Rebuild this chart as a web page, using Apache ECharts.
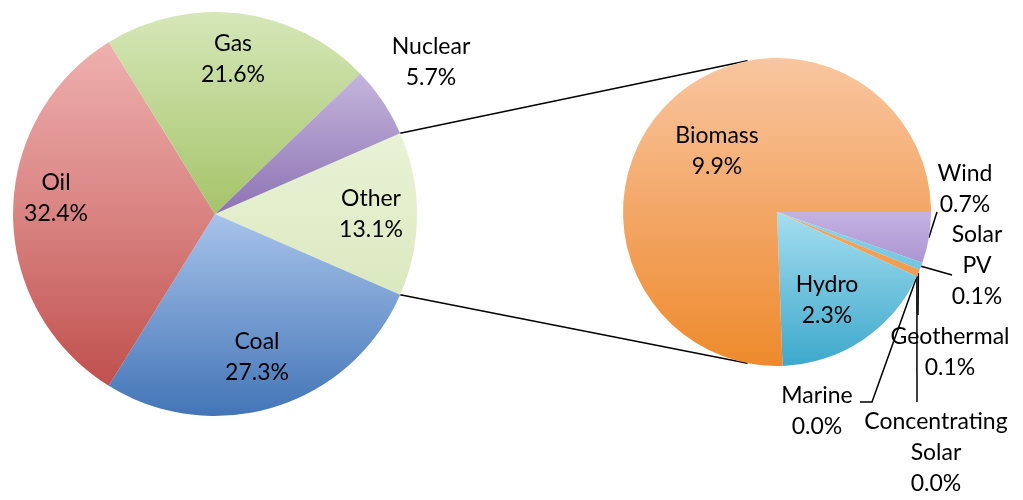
<!DOCTYPE html>
<html>
<head>
<meta charset="utf-8">
<script src="https://cdn.jsdelivr.net/npm/echarts@6/dist/echarts.min.js"></script>
<style>
  html, body { margin: 0; background: #fff; }
  #chart { width: 1023px; height: 500px; }
</style>
</head>
<body>
<div id="chart"></div>
<script>
// energy mix, % of total
const mainNames = ["Other", "Coal", "Oil", "Gas", "Nuclear"];
const mainValues = [13.1, 27.3, 32.4, 21.6, 5.7];
// breakdown of "Other"
const otherNames = ["Wind", "Solar\nPV", "Geothermal", "Concentrating\nSolar", "Marine", "Hydro", "Biomass"];
const otherValues = [0.7, 0.1, 0.1, 0.0, 0.0, 2.3, 9.9];

// pie geometry (px)
const L = { cx: 215, cy: 214, r: 202 };
const R = { cx: 777, cy: 212, r: 154 };

// label centres, offsets from pie centre
const mainLabelPos = [[156, 0], [42, 143], [-159, -16], [18, -155], [216, -152]];
const otherLabelPos = [[188, -23], [200, 54], [173, 140], [159, 241], [40, 199], [50, 88], [-60, -61]];
// leader line bends / ends, offsets from pie centre (null = label inside)
const otherLeaders = [[[160, 0]], [[175, 63]], [[141, 103]], [[140, 190]], [[95, 190], [83, 190]], null, null];

// gradient stops [top, middle, bottom] across whole pie height
const mainColors = [
  ["#f2f8e6", "#e2eecb", "#cfe0ad"],
  ["#dfe9f8", "#a8c3ea", "#4375b7"],
  ["#f2b8b6", "#d98482", "#bb4744"],
  ["#d6e7b8", "#a5c46a", "#8aab45"],
  ["#dcd2ee", "#8d73b3", "#6d5196"]
];
const otherColors = [
  ["#e2d8f2", "#c4b2e2", "#7a5cb0"],
  ["#d6f1f9", "#8fd6ee", "#3da8cb"],
  ["#fac9a3", "#f3a766", "#ee8a2c"],
  ["#d6f1f9", "#8fd6ee", "#3da8cb"],
  ["#fac9a3", "#f3a766", "#ee8a2c"],
  ["#d6f1f9", "#a5def0", "#3da8cb"],
  ["#f9c6a0", "#f3a766", "#ee8a2c"]
];

const font = { fontFamily: "Lato", fontSize: 23, lineHeight: 31, color: "#000" };

function grad(c, geo) {
  return new echarts.graphic.LinearGradient(0, geo.cy - geo.r, 0, geo.cy + geo.r, [
    { offset: 0, color: c[0] },
    { offset: 0.5, color: c[1] },
    { offset: 1, color: c[2] }
  ], true);
}

const sum = (a) => a.reduce((s, v) => s + v, 0);
const mainStart = mainValues[0] / sum(mainValues) * 180;

// mid angle (deg, ccw) of each slice of the right pie
const otherTotal = sum(otherValues);
const otherMid = [];
let acc = 0;
otherValues.forEach((v) => {
  otherMid.push(-(acc + v / 2) / otherTotal * 360);
  acc += v;
});

const mainData = mainNames.map((n, i) => ({
  name: n,
  value: mainValues[i],
  itemStyle: { color: grad(mainColors[i], L) },
  label: { position: "inside" },
  labelLine: { show: false }
}));

const otherData = otherNames.map((n, i) => ({
  name: n,
  value: otherValues[i],
  itemStyle: { color: grad(otherColors[i], R) },
  label: { position: otherLeaders[i] ? "outside" : "inside" },
  labelLine: { show: !!otherLeaders[i] }
}));

const labelText = (p) => p.name + "\n" + p.value.toFixed(1) + "%";

const rad = Math.PI / 180;
const a1 = mainStart * rad, a2 = 101 * rad;

const chart = echarts.init(document.getElementById("chart"));
chart.setOption({
  animation: false,
  backgroundColor: "#fff",
  graphic: [
    {
      type: "line",
      shape: { x1: L.cx + L.r * Math.cos(a1), y1: L.cy - L.r * Math.sin(a1), x2: R.cx + R.r * Math.cos(a2), y2: R.cy - R.r * Math.sin(a2) },
      style: { stroke: "#000", lineWidth: 1.5 }
    },
    {
      type: "line",
      shape: { x1: L.cx + L.r * Math.cos(a1), y1: L.cy + L.r * Math.sin(a1), x2: R.cx + R.r * Math.cos(a2), y2: R.cy + R.r * Math.sin(a2) },
      style: { stroke: "#000", lineWidth: 1.5 }
    }
  ],
  series: [
    {
      type: "pie",
      center: [L.cx, L.cy],
      radius: [0, L.r],
      startAngle: mainStart,
      clockwise: true,
      avoidLabelOverlap: false,
      data: mainData,
      label: Object.assign({ formatter: labelText }, font),
      labelLayout: (p) => {
        const o = mainLabelPos[p.dataIndex];
        return { x: L.cx + o[0], y: L.cy + o[1], align: "center", verticalAlign: "middle" };
      }
    },
    {
      type: "pie",
      center: [R.cx, R.cy],
      radius: [0, R.r],
      startAngle: 0,
      clockwise: true,
      avoidLabelOverlap: false,
      data: otherData,
      label: Object.assign({ formatter: labelText }, font),
      labelLine: { lineStyle: { color: "#000", width: 1.5 } },
      labelLayout: (p) => {
        const i = p.dataIndex;
        const o = otherLabelPos[i];
        const res = { x: R.cx + o[0], y: R.cy + o[1], align: "center", verticalAlign: "middle" };
        if (otherLeaders[i]) {
          const t = otherMid[i] * rad;
          const pts = [[R.cx + R.r * Math.cos(t), R.cy - R.r * Math.sin(t)]];
          otherLeaders[i].forEach((q) => pts.push([R.cx + q[0], R.cy + q[1]]));
          if (pts.length < 3) pts.push(pts[pts.length - 1].slice());
          res.labelLinePoints = pts;
        }
        return res;
      }
    }
  ]
});
</script>
</body>
</html>
